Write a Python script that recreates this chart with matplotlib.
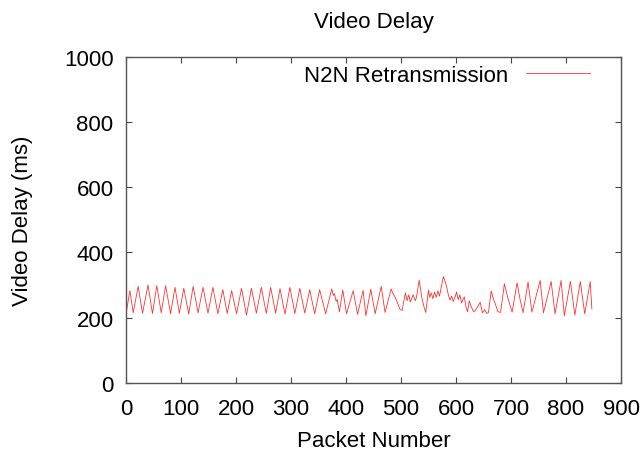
import matplotlib
matplotlib.use("Agg")
import matplotlib.pyplot as plt

plt.rcParams['font.family'] = ['Liberation Sans', 'DejaVu Sans']

# Video delay trace, vertices (packet number, delay in ms)
packets = [
    1, 7, 13, 22, 30, 40, 48, 56, 64, 72, 81, 89, 97, 105, 114, 122, 131, 140,
    149, 158, 167, 176, 184, 192, 201, 210, 219, 228, 237, 246, 255, 263, 272,
    280, 289, 298, 307, 316, 325, 334, 343, 352, 363, 374, 377, 379, 382, 384,
    388, 394, 401, 413, 421, 431, 436, 445, 453, 464, 471, 482, 486, 489, 492,
    498, 502, 508, 511, 514, 517, 522, 526, 528, 533, 538, 542, 545, 550, 552,
    555, 558, 561, 564, 567, 570, 577, 580, 583, 586, 589, 592, 595, 598, 601,
    604, 607, 610, 615, 618, 621, 624, 628, 632, 635, 644, 648, 652, 656, 659,
    664, 668, 672, 676, 681, 688, 694, 702, 711, 716, 722, 731, 738, 753, 759,
    773, 780, 791, 797, 808, 816, 826, 834, 844, 847,
]
delay = [
    222, 283, 215, 296, 214, 300, 213, 298, 215, 298, 212, 293, 214, 290, 211,
    296, 215, 293, 214, 293, 212, 286, 213, 283, 212, 290, 208, 290, 214, 293,
    213, 293, 214, 289, 211, 293, 213, 290, 214, 286, 212, 286, 212, 288, 268,
    274, 250, 256, 218, 285, 212, 283, 210, 284, 206, 287, 212, 296, 216, 288,
    272, 264, 252, 226, 222, 276, 252, 270, 248, 270, 252, 262, 315, 260, 232,
    216, 285, 262, 276, 258, 279, 262, 282, 266, 326, 312, 295, 270, 254, 266,
    250, 262, 279, 255, 270, 245, 264, 235, 218, 252, 232, 218, 222, 247, 215,
    225, 213, 216, 282, 258, 240, 219, 216, 304, 262, 217, 307, 260, 215, 309,
    217, 314, 215, 311, 212, 314, 206, 311, 208, 311, 212, 311, 227,
]

fig = plt.figure(figsize=(6.44, 4.56), dpi=100)
ax = fig.add_axes([0.1957, 0.1579, 0.7686, 0.716])

ax.plot(packets, delay, color='#ff3333', linewidth=0.6, label='N2N Retransmission')

ax.set_xlim(0, 900)
ax.set_ylim(0, 1000)
ax.set_xticks(range(0, 901, 100))
ax.set_yticks(range(0, 1001, 200))

ax.set_title("Video Delay", fontsize=16, pad=21)
ax.set_xlabel("Packet Number", fontsize=16, labelpad=8)
ax.set_ylabel("Video Delay (ms)", fontsize=16, labelpad=22)

ax.tick_params(direction='in', top=True, right=True, length=4, width=0.8,
               labelsize=16, color='#444444')
ax.tick_params(axis='x', pad=11)
ax.tick_params(axis='y', pad=9)
for sp in ax.spines.values():
    sp.set_color('#555555')
    sp.set_linewidth(1.0)

ax.legend(loc='upper right', bbox_to_anchor=(0.965, 1.015), frameon=False,
          markerfirst=False, fontsize=16, handlelength=2.9, handletextpad=0.8,
          borderaxespad=0.2)

fig.savefig("out.png", dpi=100)
